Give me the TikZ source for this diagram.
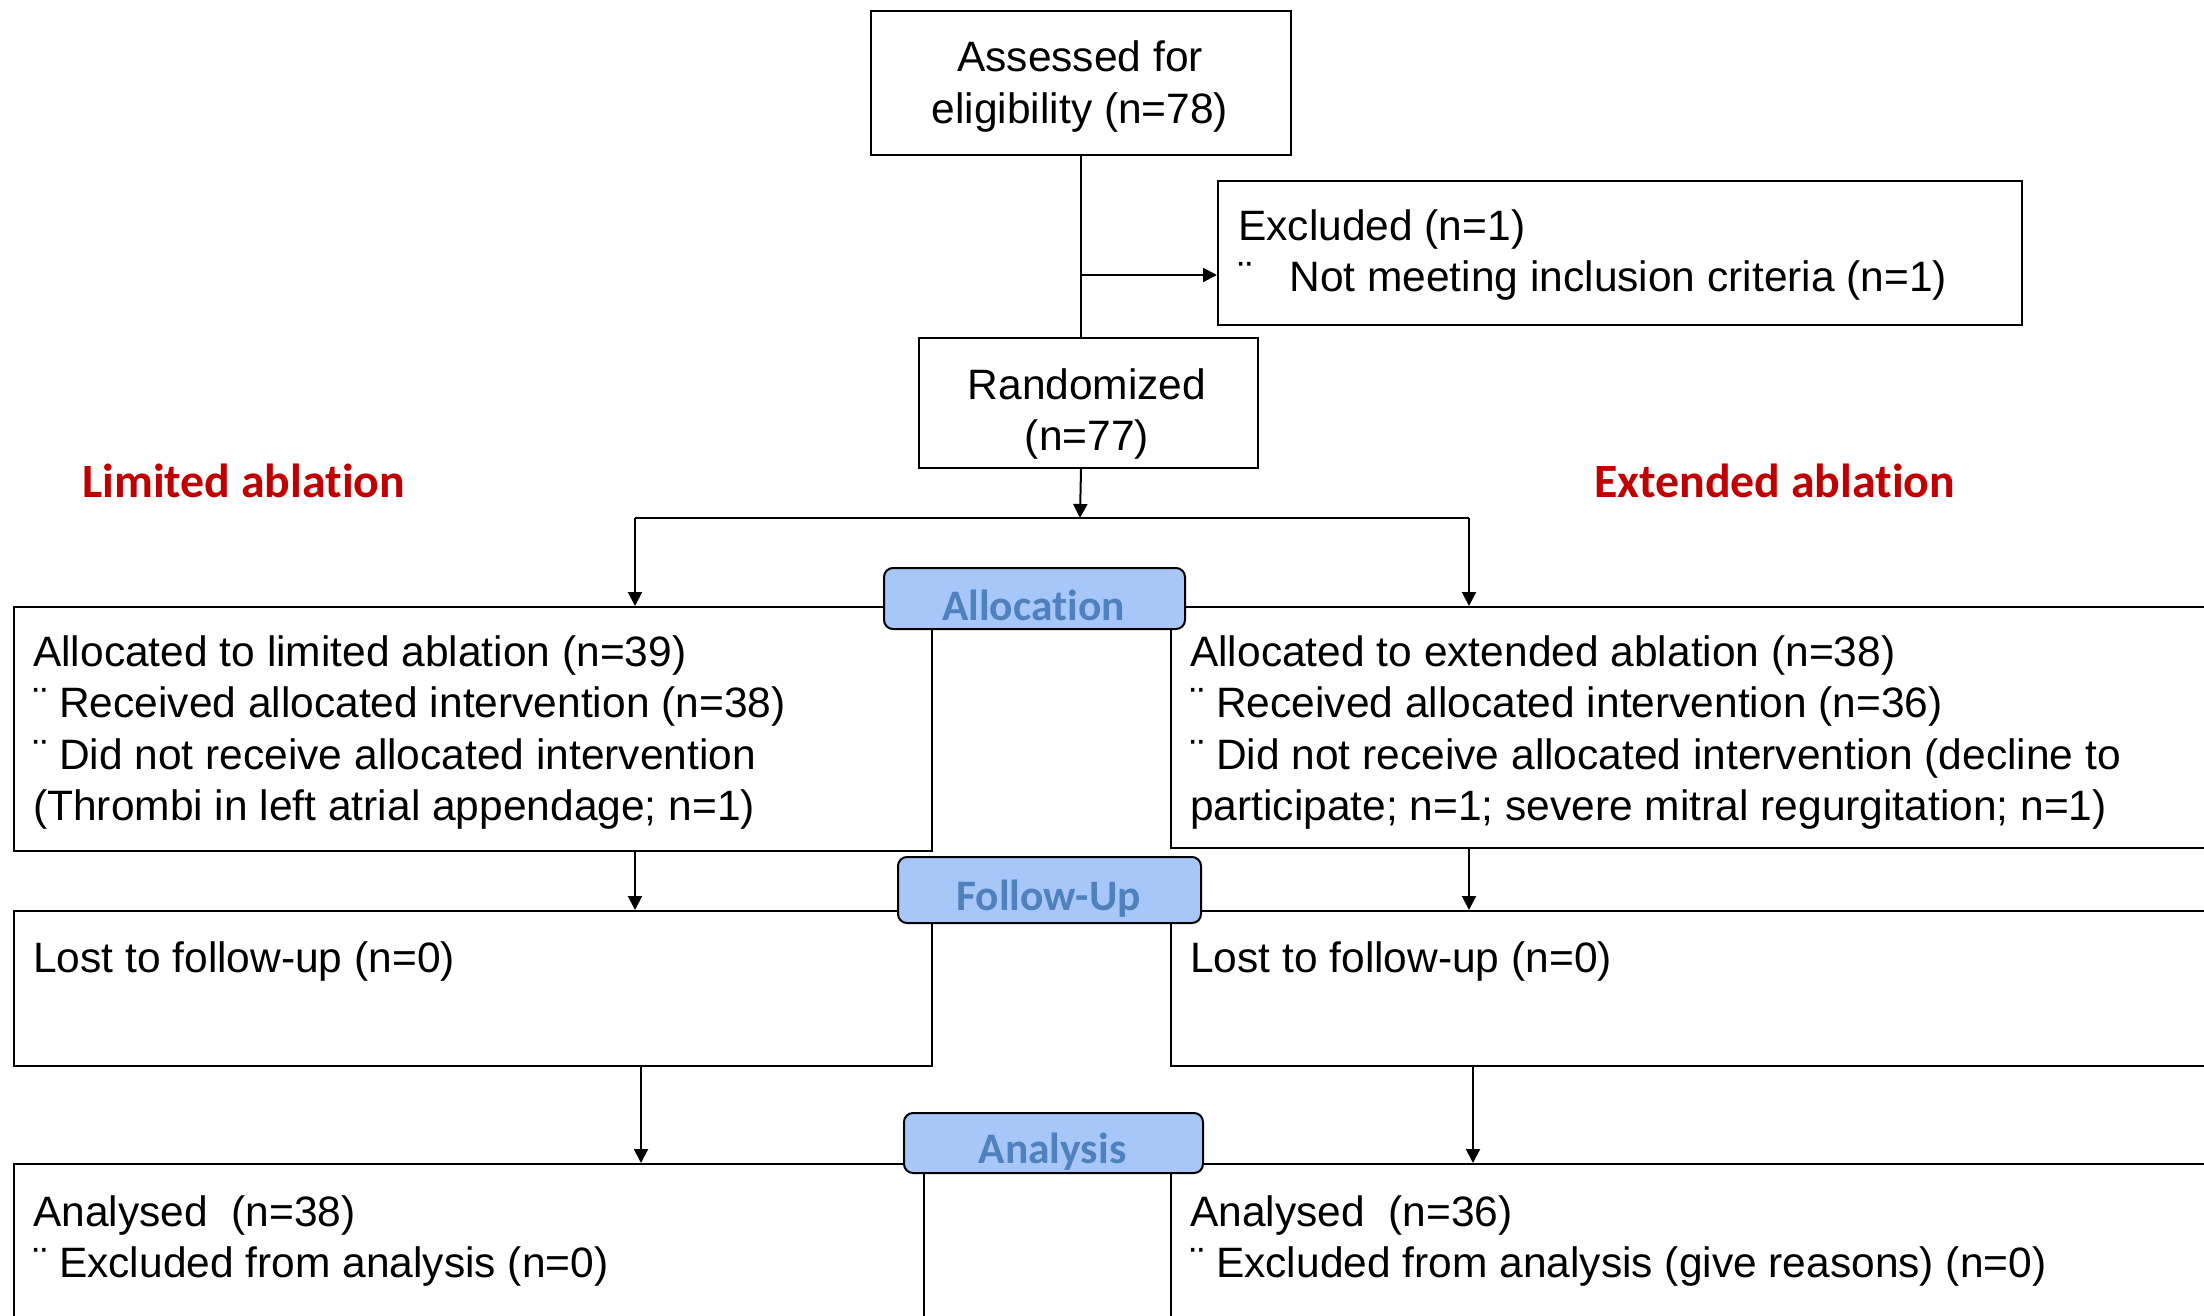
\documentclass[tikz,border=0pt]{standalone}
\usepackage{fontspec}
\setmainfont{Liberation Sans}
\newfontfamily\calfont{Carlito}[Ligatures=NoCommon]
\usetikzlibrary{arrows.meta,calc}
\definecolor{phasefill}{RGB}{167,199,249}
\definecolor{phasetext}{RGB}{79,129,189}
\definecolor{armred}{RGB}{192,0,0}
\begin{document}
\begin{tikzpicture}[x=1pt,y=-1pt,
  box/.style={draw, line width=2pt, anchor=north west, inner sep=0pt},
  phase/.style={draw, line width=2pt, fill=phasefill, rounded corners=9pt, inner sep=0pt, anchor=north west},
  txt/.style={anchor=base west, inner sep=0pt, font=\fontsize{42.5}{51.5}\selectfont},
  ctxt/.style={txt, anchor=base},
  phaselbl/.style={anchor=base, inner sep=0pt, text=phasetext, font=\calfont\bfseries\fontsize{43.5}{50}\selectfont},
  armlbl/.style={anchor=base west, inner sep=0pt, text=armred, font=\calfont\bfseries\fontsize{47.8}{55}\selectfont},
  conn/.style={line width=2pt},
  arr/.style={line width=2pt, -{Triangle[length=14pt,width=14pt]}}]
\path[use as bounding box] (0,0) rectangle (2204,1315);
\fill[white] (0,0) rectangle (2204,1315);
\clip (0,0) rectangle (2204,1315);

% boxes
\node[box, minimum width=420pt, minimum height=144pt] (assess) at (870,10) {};
\node[box, minimum width=804pt, minimum height=144pt] (excl) at (1217,180) {};
\node[box, minimum width=339pt, minimum height=130pt] (rand) at (918,337) {};
\node[box, minimum width=918pt, minimum height=244pt] (allocL) at (13,606) {};
\node[box, minimum width=1100pt, minimum height=241pt] (allocR) at (1170,606) {};
\node[box, minimum width=918pt, minimum height=155pt] (lostL) at (13,910) {};
\node[box, minimum width=1100pt, minimum height=155pt] (lostR) at (1170,910) {};
\node[box, minimum width=910pt, minimum height=200pt] (analL) at (13,1163) {};
\node[box, minimum width=1100pt, minimum height=200pt] (analR) at (1170,1163) {};

% texts
\node[ctxt] (assessT1) at (1080,71) {Assessed for};
\node[ctxt] (assessT2) at (1080,123) {eligibility (n=78)};
\node[txt] (exclT1) at (1238,240) {Excluded (n=1)};
\node[txt] (exclT2) at (1238,291) {¨\hspace{37pt}Not meeting inclusion criteria (n=1)};
\node[ctxt] (randT1) at (1087,399) {Randomized};
\node[ctxt] (randT2) at (1087,450) {(n=77)};
\node[armlbl] (armL) at (82,497) {Limited ablation};
\node[armlbl] (armR) at (1594,497) {Extended ablation};

\node[txt] (aL1) at (33,666) {Allocated to limited ablation (n=39)};
\node[txt] (aL2) at (33,717.5) {¨ Received allocated intervention (n=38)};
\node[txt] (aL3) at (33,769) {¨ Did not receive allocated intervention};
\node[txt] (aL4) at (33,820.5) {(Thrombi in left atrial appendage; n=1)};
\node[txt] (aR1) at (1190,666) {Allocated to extended ablation (n=38)};
\node[txt] (aR2) at (1190,717.5) {¨ Received allocated intervention (n=36)};
\node[txt] (aR3) at (1190,769) {¨ Did not receive allocated intervention (decline to};
\node[txt] (aR4) at (1190,820.5) {participate; n=1; severe mitral regurgitation; n=1)};

\node[txt] (lL1) at (33,972) {Lost to follow-up (n=0)};
\node[txt] (lR1) at (1190,972) {Lost to follow-up (n=0)};

\node[txt] (nL1) at (33,1226) {Analysed\ \ (n=38)};
\node[txt] (nL2) at (33,1277.5) {¨ Excluded from analysis (n=0)};
\node[txt] (nR1) at (1190,1226) {Analysed\ \ (n=36)};
\node[txt] (nR2) at (1190,1277.5) {¨ Excluded from analysis (give reasons) (n=0)};

% connectors
\draw[conn] (assess.south) -- (assess.south |- rand.north);
\coordinate (exclJ) at (1080,275);
\draw[arr] (exclJ) -- (exclJ -| excl.west);
\coordinate (split) at (1080,518);
\draw[arr] (assess.south |- rand.south) -- (split);
\coordinate (splitL) at (635,518);
\coordinate (splitR) at (1469,518);
\draw[conn] (splitL) -- (splitR);
\draw[arr] (splitL) -- (splitL |- allocL.north);
\draw[arr] (splitR) -- (splitR |- allocR.north);
\draw[arr] (allocL.south -| splitL) -- (splitL |- lostL.north);
\draw[arr] (allocR.south -| splitR) -- (splitR |- lostR.north);
\coordinate (colL) at (641,0);
\coordinate (colR) at (1473,0);
\draw[arr] (lostL.south -| colL) -- (colL |- analL.north);
\draw[arr] (lostR.south -| colR) -- (colR |- analR.north);

% phase labels
\node[phase, minimum width=301pt, minimum height=61pt] (ph1) at (883,567) {};
\node[phaselbl] (ph1T) at (1033.5,620) {Allocation};
\node[phase, minimum width=303pt, minimum height=66pt] (ph2) at (897,856) {};
\node[phaselbl] (ph2T) at (1048.5,910) {Follow-Up};
\node[phase, minimum width=299pt, minimum height=60pt] (ph3) at (903,1112) {};
\node[phaselbl] (ph3T) at (1052.5,1163) {Analysis};
\end{tikzpicture}
\end{document}
